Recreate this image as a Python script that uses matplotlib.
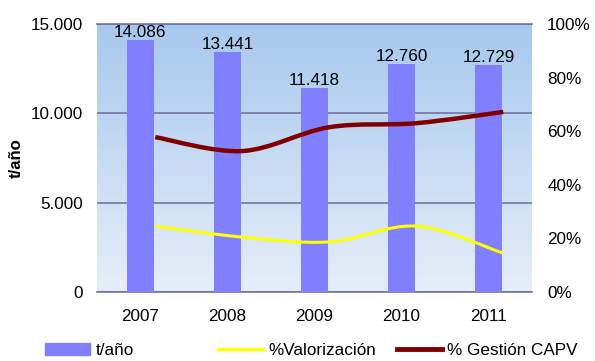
import numpy as np
import matplotlib.pyplot as plt
from matplotlib.path import Path
from matplotlib.patches import PathPatch, Patch
from matplotlib.lines import Line2D
from matplotlib.ticker import FuncFormatter
from matplotlib.colors import LinearSegmentedColormap

plt.rcParams['font.family'] = ['Liberation Sans', 'DejaVu Sans']

# datos
years = ['2007', '2008', '2009', '2010', '2011']
toneladas = [14086, 13441, 11418, 12760, 12729]
pct_valorizacion = [0.246, 0.205, 0.187, 0.246, 0.145]
pct_gestion = [0.578, 0.526, 0.615, 0.630, 0.672]

FS = 12.3


def smooth_path(xs, ys):
    # curva suave tipo Excel (catmull-rom -> bezier)
    pts = np.column_stack([xs, ys])
    ext = np.vstack([pts[0], pts, pts[-1]])
    verts = [pts[0]]
    codes = [Path.MOVETO]
    for i in range(len(pts) - 1):
        p0, p1, p2, p3 = ext[i], ext[i + 1], ext[i + 2], ext[i + 3]
        verts += [p1 + (p2 - p0) / 6, p2 - (p3 - p1) / 6, p2]
        codes += [Path.CURVE4] * 3
    return Path(verts, codes)


fig = plt.figure(figsize=(5.95, 3.61), dpi=100)
ax = fig.add_axes([0.163, 0.191, 0.731, 0.7425])
x = np.arange(len(years))

# fondo degradado
grad = np.linspace(0, 1, 256).reshape(-1, 1)
cmap = LinearSegmentedColormap.from_list('bg', ['#a7c8ee', '#e6eef9'])
ax.imshow(grad, cmap=cmap, aspect='auto', extent=[0, 1, 0, 1],
          transform=ax.transAxes, zorder=0)

ax.bar(x, toneladas, width=0.32, color='#8080ff', zorder=3)
for i, v in enumerate(toneladas):
    ax.annotate(f'{v:,}'.replace(',', '.'), (x[i], v), xytext=(0, 0),
                textcoords='offset points', ha='center', va='bottom',
                fontsize=FS, zorder=5)

ax.set_xlim(-0.5, 4.5)
ax.set_ylim(0, 15000)
ax.set_yticks([0, 5000, 10000, 15000])
ax.yaxis.set_major_formatter(FuncFormatter(lambda v, p: f'{int(v):,}'.replace(',', '.')))
ax.set_xticks(x)
ax.set_xticklabels(years)
ax.grid(axis='y', color='#7373a3', lw=1.2, zorder=1)
ax.set_axisbelow(True)
for s in ['left', 'right']:
    ax.spines[s].set_visible(False)
for s in ['top', 'bottom']:
    ax.spines[s].set_color('#7373a3')
    ax.spines[s].set_linewidth(1.2)
ax.tick_params(length=0, labelsize=FS)
ax.tick_params(axis='y', pad=10)
ax.tick_params(axis='x', pad=12)
ax.set_ylabel('t/año', fontsize=12, fontweight='bold', labelpad=5)

ax2 = ax.twinx()
ax2.set_ylim(0, 1)
ax2.set_yticks([0, 0.2, 0.4, 0.6, 0.8, 1.0])
ax2.yaxis.set_major_formatter(FuncFormatter(lambda v, p: f'{v*100:.0f}%'))
ax2.tick_params(length=0, labelsize=FS, pad=11)
for s in ax2.spines.values():
    s.set_visible(False)

off = 0.17
ax2.add_patch(PathPatch(smooth_path(x + off, pct_valorizacion), fill=False,
                        edgecolor='#ffff00', lw=2.2, capstyle='butt', zorder=4))
ax2.add_patch(PathPatch(smooth_path(x + off, pct_gestion), fill=False,
                        edgecolor='#800000', lw=3.2, capstyle='butt', zorder=4))

# leyenda
items = [
    (Patch(color='#8080ff'), 't/año', 0.0756),
    (Line2D([], [], color='#ffff00', lw=2.5), '%Valorización', 0.366),
    (Line2D([], [], color='#800000', lw=3.5), '% Gestión CAPV', 0.667),
]
for h, lab, xpos in items:
    fig.legend([h], [lab], loc='center left', bbox_to_anchor=(xpos, 0.03),
               frameon=False, fontsize=FS, handlelength=2.65,
               handleheight=0.7, handletextpad=0.3, borderpad=0,
               borderaxespad=0)

fig.savefig('out.png', dpi=100)
